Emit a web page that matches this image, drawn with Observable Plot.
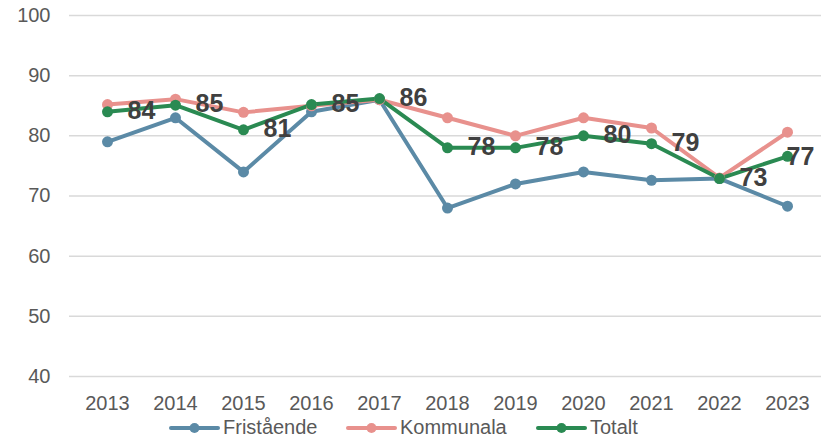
<!DOCTYPE html>
<html>
<head>
<meta charset="utf-8">
<script src="https://cdn.jsdelivr.net/npm/d3@7"></script>
<script src="https://cdn.jsdelivr.net/npm/@observablehq/plot@0.6"></script>
<style>
  body { margin: 0; background: #fff; font-family: "Liberation Sans", Arial, sans-serif; }
  #wrap { position: relative; width: 821px; height: 440px; }
  #legend { position: absolute; left: 0; top: 415px; width: 821px; height: 25px; }
  .item { position: absolute; top: 0; height: 25px; display: flex; align-items: center; font-size: 20px; color: #595959; }
  .item svg { margin-right: 2px; }
</style>
</head>
<body>
<div id="wrap">
  <div id="chart"></div>
  <div id="legend"></div>
</div>
<script>
const years = ["2013","2014","2015","2016","2017","2018","2019","2020","2021","2022","2023"];
const fristaende = [79, 83, 74, 84, 86, 68, 72, 74, 72.6, 72.9, 68.3];
const kommunala  = [85.2, 86.1, 83.9, 85, 86, 83, 80, 83, 81.3, 73, 80.6];
const totalt     = [84, 85.1, 81, 85.2, 86.2, 78, 78, 80, 78.7, 72.9, 76.6];
const totaltLabels = ["84","85","81","85","86","78","78","80","79","73","77"];
const seriesNames = ["Fristående", "Kommunala", "Totalt"];
const seriesColors = ["#5b8aa6", "#e8918d", "#2a8a52"];
const yTicks = [40, 50, 60, 70, 80, 90, 100];

const seriesValues = [fristaende, kommunala, totalt];
const data = [];
seriesNames.forEach((s, i) => years.forEach((y, j) => data.push({series: s, year: y, value: seriesValues[i][j]})));
const labelData = years.map((y, j) => ({year: y, value: totalt[j], label: totaltLabels[j]}));
const lastIdx = labelData.length - 1;
const labelStyle = {x: "year", y: "value", text: "label", textAnchor: "start", lineAnchor: "middle", fontSize: 25, fontWeight: "bold", fill: "#404040"};

const chart = Plot.plot({
  width: 821,
  height: 415,
  marginLeft: 69,
  marginRight: 0,
  marginTop: 15,
  marginBottom: 39,
  style: {fontFamily: "'Liberation Sans', Arial, sans-serif", fontSize: "20px", color: "#595959", background: "#fff"},
  x: {type: "point", domain: years, range: [103, 791], padding: 0, label: null},
  y: {domain: [40, 100], label: null},
  color: {domain: seriesNames, range: seriesColors},
  marks: [
    Plot.ruleY(yTicks, {stroke: "#d9d9d9", strokeWidth: 1.5}),
    Plot.axisY(yTicks, {tickSize: 0, tickPadding: 19, fontSize: 20, fill: "#595959", label: null}),
    Plot.axisX(years, {tickSize: 0, tickPadding: 19, fontSize: 20, fill: "#595959", label: null}),
    Plot.line(data, {x: "year", y: "value", z: "series", stroke: "series", strokeWidth: 4, strokeLinejoin: "round", strokeLinecap: "round"}),
    Plot.dot(data, {x: "year", y: "value", fill: "series", r: 5.5, stroke: "none"}),
    Plot.text(labelData.slice(0, lastIdx), {...labelStyle, dx: 20, dy: -1}),
    Plot.text(labelData.slice(lastIdx), {...labelStyle, dx: -1, dy: 1})
  ]
});
document.getElementById("chart").append(chart);

const legendPos = [168, 345, 535];
const legend = document.getElementById("legend");
seriesNames.forEach((s, i) => {
  const div = document.createElement("div");
  div.className = "item";
  div.style.left = legendPos[i] + "px";
  div.innerHTML = `<svg width="53" height="12"><line x1="3" x2="50" y1="6" y2="6" stroke="${seriesColors[i]}" stroke-width="4" stroke-linecap="round"/><circle cx="26.5" cy="6" r="5" fill="${seriesColors[i]}"/></svg><span>${s}</span>`;
  legend.append(div);
});
</script>
</body>
</html>
